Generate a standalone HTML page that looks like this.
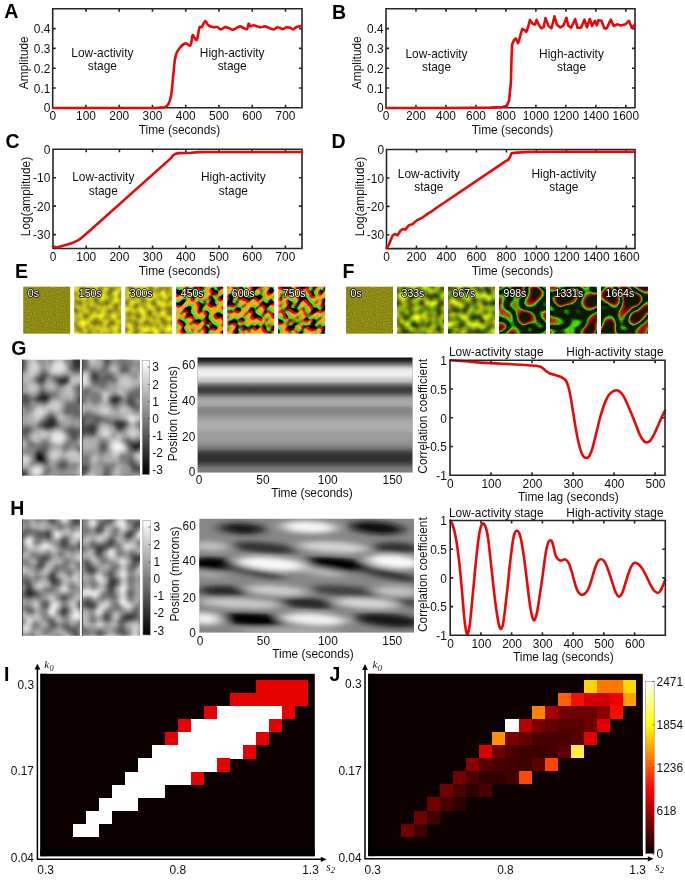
<!DOCTYPE html>
<html><head><meta charset="utf-8"><style>
html,body{margin:0;padding:0;background:#fff;width:685px;height:880px;overflow:hidden}
svg{display:block;will-change:transform}
text{font-family:"Liberation Sans", sans-serif}
</style></head><body>
<svg width="685" height="880" viewBox="0 0 685 880">
<path d="M52.7 8.7H302V107.8H52.7ZM52.7 107.8v-3M52.7 8.7v3M85.96 107.8v-3M85.96 8.7v3M119.22 107.8v-3M119.22 8.7v3M152.48 107.8v-3M152.48 8.7v3M185.74 107.8v-3M185.74 8.7v3M219 107.8v-3M219 8.7v3M252.26 107.8v-3M252.26 8.7v3M285.52 107.8v-3M285.52 8.7v3M52.7 107.8h3M302 107.8h-3M52.7 88h3M302 88h-3M52.7 68.2h3M302 68.2h-3M52.7 48.4h3M302 48.4h-3M52.7 28.6h3M302 28.6h-3" fill="none" stroke="#262626" stroke-width="1.6"/>
<text x="52.7" y="120.2" font-size="11.9" text-anchor="middle" fill="#111">0</text>
<text x="85.96" y="120.2" font-size="11.9" text-anchor="middle" fill="#111">100</text>
<text x="119.22" y="120.2" font-size="11.9" text-anchor="middle" fill="#111">200</text>
<text x="152.48" y="120.2" font-size="11.9" text-anchor="middle" fill="#111">300</text>
<text x="185.74" y="120.2" font-size="11.9" text-anchor="middle" fill="#111">400</text>
<text x="219" y="120.2" font-size="11.9" text-anchor="middle" fill="#111">500</text>
<text x="252.26" y="120.2" font-size="11.9" text-anchor="middle" fill="#111">600</text>
<text x="285.52" y="120.2" font-size="11.9" text-anchor="middle" fill="#111">700</text>
<text x="50.3" y="112.4" font-size="11.9" text-anchor="end" fill="#111">0</text>
<text x="50.3" y="92.6" font-size="11.9" text-anchor="end" fill="#111">0.1</text>
<text x="50.3" y="72.8" font-size="11.9" text-anchor="end" fill="#111">0.2</text>
<text x="50.3" y="53" font-size="11.9" text-anchor="end" fill="#111">0.3</text>
<text x="50.3" y="33.2" font-size="11.9" text-anchor="end" fill="#111">0.4</text>
<text x="4.3" y="17.7" font-size="19.5" text-anchor="start" font-weight="bold" fill="#000">A</text>
<text x="28.2" y="62.7" font-size="11.9" text-anchor="middle" fill="#111" transform="rotate(-90 28.2 62.7)">Amplitude</text>
<text x="179.5" y="134.3" font-size="11.9" text-anchor="middle" fill="#111">Time (seconds)</text>
<text x="102.4" y="57" font-size="11.9" text-anchor="middle" fill="#111">Low-activity</text>
<text x="102.4" y="70" font-size="11.9" text-anchor="middle" fill="#111">stage</text>
<text x="232.2" y="57" font-size="11.9" text-anchor="middle" fill="#111">High-activity</text>
<text x="232.2" y="70" font-size="11.9" text-anchor="middle" fill="#111">stage</text>
<path d="M386 8.7H635V107.8H386ZM386 107.8v-3M386 8.7v3M415.98 107.8v-3M415.98 8.7v3M445.96 107.8v-3M445.96 8.7v3M475.94 107.8v-3M475.94 8.7v3M505.92 107.8v-3M505.92 8.7v3M535.9 107.8v-3M535.9 8.7v3M565.88 107.8v-3M565.88 8.7v3M595.86 107.8v-3M595.86 8.7v3M625.84 107.8v-3M625.84 8.7v3M386 107.8h3M635 107.8h-3M386 88h3M635 88h-3M386 68.2h3M635 68.2h-3M386 48.4h3M635 48.4h-3M386 28.6h3M635 28.6h-3" fill="none" stroke="#262626" stroke-width="1.6"/>
<text x="386" y="120.2" font-size="11.9" text-anchor="middle" fill="#111">0</text>
<text x="415.98" y="120.2" font-size="11.9" text-anchor="middle" fill="#111">200</text>
<text x="445.96" y="120.2" font-size="11.9" text-anchor="middle" fill="#111">400</text>
<text x="475.94" y="120.2" font-size="11.9" text-anchor="middle" fill="#111">600</text>
<text x="505.92" y="120.2" font-size="11.9" text-anchor="middle" fill="#111">800</text>
<text x="535.9" y="120.2" font-size="11.9" text-anchor="middle" fill="#111">1000</text>
<text x="565.88" y="120.2" font-size="11.9" text-anchor="middle" fill="#111">1200</text>
<text x="595.86" y="120.2" font-size="11.9" text-anchor="middle" fill="#111">1400</text>
<text x="625.84" y="120.2" font-size="11.9" text-anchor="middle" fill="#111">1600</text>
<text x="383.6" y="112.4" font-size="11.9" text-anchor="end" fill="#111">0</text>
<text x="383.6" y="92.6" font-size="11.9" text-anchor="end" fill="#111">0.1</text>
<text x="383.6" y="72.8" font-size="11.9" text-anchor="end" fill="#111">0.2</text>
<text x="383.6" y="53" font-size="11.9" text-anchor="end" fill="#111">0.3</text>
<text x="383.6" y="33.2" font-size="11.9" text-anchor="end" fill="#111">0.4</text>
<text x="332.1" y="18.7" font-size="19.5" text-anchor="start" font-weight="bold" fill="#000">B</text>
<text x="361.5" y="62.7" font-size="11.9" text-anchor="middle" fill="#111" transform="rotate(-90 361.5 62.7)">Amplitude</text>
<text x="512.5" y="134.3" font-size="11.9" text-anchor="middle" fill="#111">Time (seconds)</text>
<text x="436.5" y="58" font-size="11.9" text-anchor="middle" fill="#111">Low-activity</text>
<text x="436.5" y="71" font-size="11.9" text-anchor="middle" fill="#111">stage</text>
<text x="571.5" y="58" font-size="11.9" text-anchor="middle" fill="#111">High-activity</text>
<text x="571.5" y="71" font-size="11.9" text-anchor="middle" fill="#111">stage</text>
<path d="M53 149.3H302V248.5H53ZM53 248.5v-3M53 149.3v3M86.2 248.5v-3M86.2 149.3v3M119.4 248.5v-3M119.4 149.3v3M152.6 248.5v-3M152.6 149.3v3M185.8 248.5v-3M185.8 149.3v3M219 248.5v-3M219 149.3v3M252.2 248.5v-3M252.2 149.3v3M285.4 248.5v-3M285.4 149.3v3M53 149.3h3M302 149.3h-3M53 177.73h3M302 177.73h-3M53 206.16h3M302 206.16h-3M53 234.59h3M302 234.59h-3" fill="none" stroke="#262626" stroke-width="1.6"/>
<text x="53" y="261" font-size="11.9" text-anchor="middle" fill="#111">0</text>
<text x="86.2" y="261" font-size="11.9" text-anchor="middle" fill="#111">100</text>
<text x="119.4" y="261" font-size="11.9" text-anchor="middle" fill="#111">200</text>
<text x="152.6" y="261" font-size="11.9" text-anchor="middle" fill="#111">300</text>
<text x="185.8" y="261" font-size="11.9" text-anchor="middle" fill="#111">400</text>
<text x="219" y="261" font-size="11.9" text-anchor="middle" fill="#111">500</text>
<text x="252.2" y="261" font-size="11.9" text-anchor="middle" fill="#111">600</text>
<text x="285.4" y="261" font-size="11.9" text-anchor="middle" fill="#111">700</text>
<text x="50.3" y="153.9" font-size="11.9" text-anchor="end" fill="#111">0</text>
<text x="50.3" y="182.33" font-size="11.9" text-anchor="end" fill="#111">-10</text>
<text x="50.3" y="210.76" font-size="11.9" text-anchor="end" fill="#111">-20</text>
<text x="50.3" y="239.19" font-size="11.9" text-anchor="end" fill="#111">-30</text>
<text x="5.5" y="148.3" font-size="19.5" text-anchor="start" font-weight="bold" fill="#000">C</text>
<text x="30" y="196.5" font-size="11.9" text-anchor="middle" fill="#111" transform="rotate(-90 30 196.5)">Log(amplitude)</text>
<text x="179.5" y="275" font-size="11.9" text-anchor="middle" fill="#111">Time (seconds)</text>
<text x="103.3" y="181" font-size="11.9" text-anchor="middle" fill="#111">Low-activity</text>
<text x="103.3" y="194.5" font-size="11.9" text-anchor="middle" fill="#111">stage</text>
<text x="233.4" y="181" font-size="11.9" text-anchor="middle" fill="#111">High-activity</text>
<text x="233.4" y="194.5" font-size="11.9" text-anchor="middle" fill="#111">stage</text>
<path d="M386.5 149.5H635V248.6H386.5ZM386.5 248.6v-3M386.5 149.5v3M416.48 248.6v-3M416.48 149.5v3M446.46 248.6v-3M446.46 149.5v3M476.44 248.6v-3M476.44 149.5v3M506.42 248.6v-3M506.42 149.5v3M536.4 248.6v-3M536.4 149.5v3M566.38 248.6v-3M566.38 149.5v3M596.36 248.6v-3M596.36 149.5v3M626.34 248.6v-3M626.34 149.5v3M386.5 149.5h3M635 149.5h-3M386.5 177.93h3M635 177.93h-3M386.5 206.36h3M635 206.36h-3M386.5 234.79h3M635 234.79h-3" fill="none" stroke="#262626" stroke-width="1.6"/>
<text x="386.5" y="261" font-size="11.9" text-anchor="middle" fill="#111">0</text>
<text x="416.48" y="261" font-size="11.9" text-anchor="middle" fill="#111">200</text>
<text x="446.46" y="261" font-size="11.9" text-anchor="middle" fill="#111">400</text>
<text x="476.44" y="261" font-size="11.9" text-anchor="middle" fill="#111">600</text>
<text x="506.42" y="261" font-size="11.9" text-anchor="middle" fill="#111">800</text>
<text x="536.4" y="261" font-size="11.9" text-anchor="middle" fill="#111">1000</text>
<text x="566.38" y="261" font-size="11.9" text-anchor="middle" fill="#111">1200</text>
<text x="596.36" y="261" font-size="11.9" text-anchor="middle" fill="#111">1400</text>
<text x="626.34" y="261" font-size="11.9" text-anchor="middle" fill="#111">1600</text>
<text x="384" y="154.1" font-size="11.9" text-anchor="end" fill="#111">0</text>
<text x="384" y="182.53" font-size="11.9" text-anchor="end" fill="#111">-10</text>
<text x="384" y="210.96" font-size="11.9" text-anchor="end" fill="#111">-20</text>
<text x="384" y="239.39" font-size="11.9" text-anchor="end" fill="#111">-30</text>
<text x="331.5" y="148.3" font-size="19.5" text-anchor="start" font-weight="bold" fill="#000">D</text>
<text x="364" y="196.5" font-size="11.9" text-anchor="middle" fill="#111" transform="rotate(-90 364 196.5)">Log(amplitude)</text>
<text x="512.5" y="275" font-size="11.9" text-anchor="middle" fill="#111">Time (seconds)</text>
<text x="428.9" y="178.4" font-size="11.9" text-anchor="middle" fill="#111">Low-activity</text>
<text x="428.9" y="191.3" font-size="11.9" text-anchor="middle" fill="#111">stage</text>
<text x="563.9" y="178.4" font-size="11.9" text-anchor="middle" fill="#111">High-activity</text>
<text x="563.9" y="191.3" font-size="11.9" text-anchor="middle" fill="#111">stage</text>
<path d="M53 108 C60.83 108 83.83 108 100 108 C116.17 108 140 108.07 150 108 C160 107.93 157.53 107.75 160 107.6 C162.47 107.45 163.4 107.68 164.8 107.1 C166.2 106.52 167.32 106.18 168.4 104.1 C169.48 102.02 170.52 99.18 171.3 94.6 C172.08 90.02 172.5 82.38 173.1 76.6 C173.7 70.82 174.3 63.87 174.9 59.9 C175.5 55.93 175.9 54.78 176.7 52.8 C177.5 50.82 178.6 49.4 179.7 48 C180.8 46.6 182.2 45.17 183.3 44.4 C184.4 43.63 185.3 43.2 186.3 43.4 C187.3 43.6 188.52 45.43 189.3 45.6 C190.08 45.77 190.47 46.1 191 44.4 C191.53 42.7 191.9 36.5 192.5 35.4 C193.1 34.3 193.85 37.1 194.6 37.8 C195.35 38.5 196.2 41.28 197 39.6 C197.8 37.92 198.6 29.78 199.4 27.7 C200.2 25.62 201.2 27.6 201.8 27.1 C202.4 26.6 202.4 25.7 203 24.7 C203.6 23.7 204.6 21.1 205.4 21.1 C206.2 21.1 206.62 23.7 207.8 24.7 C208.98 25.7 210.92 26.7 212.5 27.1 C214.08 27.5 215.9 26.7 217.3 27.1 C218.7 27.5 219.6 29.5 220.9 29.5 C222.2 29.5 223.7 27.3 225.1 27.1 C226.5 26.9 228.12 27.87 229.3 28.3 C230.48 28.73 231.17 29.65 232.2 29.7 C233.23 29.75 234.22 29.15 235.5 28.6 C236.78 28.05 238.63 26.55 239.9 26.4 C241.17 26.25 241.92 27.23 243.1 27.7 C244.28 28.17 246.08 29.87 247 29.2 C247.92 28.53 248.05 24.17 248.6 23.7 C249.15 23.23 249.48 26.13 250.3 26.4 C251.12 26.67 252.32 25.3 253.5 25.3 C254.68 25.3 256.2 26.07 257.4 26.4 C258.6 26.73 259.43 27.3 260.7 27.3 C261.97 27.3 263.55 26.27 265 26.4 C266.45 26.53 267.93 27.58 269.4 28.1 C270.87 28.62 272.52 29.63 273.8 29.5 C275.08 29.37 276 27.53 277.1 27.3 C278.2 27.07 279.48 27.78 280.4 28.1 C281.32 28.42 281.7 29.3 282.6 29.2 C283.5 29.1 284.53 27.75 285.8 27.5 C287.07 27.25 288.92 27.37 290.2 27.7 C291.48 28.03 292.58 29.53 293.5 29.5 C294.42 29.47 294.78 28.02 295.7 27.5 C296.62 26.98 298.08 26.67 299 26.4 C299.92 26.13 300.83 25.98 301.2 25.9" fill="none" stroke="#e80808" stroke-width="2.6" stroke-linejoin="round" stroke-linecap="round"/>
<path d="M386.5 108 L450 108 L490 107.6 L501.9 107.1 L506.7 105.9 L509.1 100.5 L510.9 82.6 L511.5 58.7 L512.1 44.4 L513.9 40.2 L515.7 38.4 L518.1 43.2 L519.9 37.2 L522.2 28.9 L524.6 30.1 L526.4 31.9 L528.2 26.5 L530 19.9 L532.4 23.5 L534.8 24.7 L536.6 19.9 L539 25.3 L541.3 28.3 L543.7 27.1 L545.5 18.1 L548.5 25.9 L551.5 28.3 L554.5 16.3 L556.9 24.7 L560.4 27.5 L563.5 25.4 L566.4 17.8 L568.2 25.4 L571.1 27.8 L575.2 19 L577.5 27.8 L581 27.8 L584.5 19.6 L586.9 27.2 L589.8 19 L592.1 26 L595 20.8 L596.8 25.4 L598.5 20.2 L601.5 20.8 L604.4 28.4 L606.7 28.4 L610.8 19.6 L613.7 26 L617.2 24.3 L620.7 25.4 L625.4 24.3 L628.9 20.8 L631.8 27.8 L634.7 24.9" fill="none" stroke="#e80808" stroke-width="2.6" stroke-linejoin="round" stroke-linecap="round"/>
<path d="M53 246.3 L55 247 L58 247.2 L62 246 L67.5 244.6 L73 242.7 L77 240.8 L80.5 238.7 L84 235.8 L90 230.5 L171 158.1 L173 155.5 L175.5 153.7 L179 153.1 L191 152.8 L199 152.1 L208 152 L302 152" fill="none" stroke="#e80808" stroke-width="2.6" stroke-linejoin="round" stroke-linecap="round"/>
<path d="M386.5 248 L388.8 244.9 L390.5 240.5 L392.7 235.3 L394.9 234 L397.5 235.3 L400.6 230.5 L402.8 229 L405.4 229.6 L408.9 225.2 L412.4 224.3 L416.8 220.4 L422.9 217.3 L428.2 213.4 L432.6 210.8 L436.1 208.1 L440 205.5 L505 161.6 L508.5 159.6 L510.3 156.4 L511.5 153.2 L516.7 152.6 L528.4 152 L550 151.7 L635 151.7" fill="none" stroke="#e80808" stroke-width="2.6" stroke-linejoin="round" stroke-linecap="round"/>
<rect x="40.4" y="673.8" width="274.4" height="182.4" fill="#0c0000"/>
<rect x="40.4" y="673.8" width="6.54" height="182.4" fill="#000"/>
<rect x="40.4" y="849.69" width="274.4" height="6.51" fill="#000"/>
<rect x="73.07" y="823.62" width="13.09" height="13.05" fill="#ffffff" shape-rendering="crispEdges"/>
<rect x="86.15" y="823.62" width="13.09" height="13.05" fill="#ffffff" shape-rendering="crispEdges"/>
<rect x="86.15" y="810.6" width="13.09" height="13.05" fill="#ffffff" shape-rendering="crispEdges"/>
<rect x="99.22" y="810.6" width="13.09" height="13.05" fill="#ffffff" shape-rendering="crispEdges"/>
<rect x="99.22" y="797.57" width="13.09" height="13.05" fill="#ffffff" shape-rendering="crispEdges"/>
<rect x="112.28" y="797.57" width="13.09" height="13.05" fill="#ffffff" shape-rendering="crispEdges"/>
<rect x="125.35" y="797.57" width="13.09" height="13.05" fill="#ffffff" shape-rendering="crispEdges"/>
<rect x="112.28" y="784.54" width="13.09" height="13.05" fill="#ffffff" shape-rendering="crispEdges"/>
<rect x="125.35" y="784.54" width="13.09" height="13.05" fill="#ffffff" shape-rendering="crispEdges"/>
<rect x="138.43" y="784.54" width="13.09" height="13.05" fill="#ffffff" shape-rendering="crispEdges"/>
<rect x="151.5" y="784.54" width="13.09" height="13.05" fill="#ffffff" shape-rendering="crispEdges"/>
<rect x="125.35" y="771.51" width="13.09" height="13.05" fill="#ffffff" shape-rendering="crispEdges"/>
<rect x="138.43" y="771.51" width="13.09" height="13.05" fill="#ffffff" shape-rendering="crispEdges"/>
<rect x="151.5" y="771.51" width="13.09" height="13.05" fill="#ffffff" shape-rendering="crispEdges"/>
<rect x="164.56" y="771.51" width="13.09" height="13.05" fill="#ffffff" shape-rendering="crispEdges"/>
<rect x="177.64" y="771.51" width="13.09" height="13.05" fill="#ffffff" shape-rendering="crispEdges"/>
<rect x="138.43" y="758.48" width="13.09" height="13.05" fill="#ffffff" shape-rendering="crispEdges"/>
<rect x="151.5" y="758.48" width="13.09" height="13.05" fill="#ffffff" shape-rendering="crispEdges"/>
<rect x="164.56" y="758.48" width="13.09" height="13.05" fill="#ffffff" shape-rendering="crispEdges"/>
<rect x="177.64" y="758.48" width="13.09" height="13.05" fill="#ffffff" shape-rendering="crispEdges"/>
<rect x="190.71" y="758.48" width="13.09" height="13.05" fill="#ffffff" shape-rendering="crispEdges"/>
<rect x="203.78" y="758.48" width="13.09" height="13.05" fill="#ffffff" shape-rendering="crispEdges"/>
<rect x="151.5" y="745.45" width="13.09" height="13.05" fill="#ffffff" shape-rendering="crispEdges"/>
<rect x="164.56" y="745.45" width="13.09" height="13.05" fill="#ffffff" shape-rendering="crispEdges"/>
<rect x="177.64" y="745.45" width="13.09" height="13.05" fill="#ffffff" shape-rendering="crispEdges"/>
<rect x="190.71" y="745.45" width="13.09" height="13.05" fill="#ffffff" shape-rendering="crispEdges"/>
<rect x="203.78" y="745.45" width="13.09" height="13.05" fill="#ffffff" shape-rendering="crispEdges"/>
<rect x="216.84" y="745.45" width="13.09" height="13.05" fill="#ffffff" shape-rendering="crispEdges"/>
<rect x="229.92" y="745.45" width="13.09" height="13.05" fill="#ffffff" shape-rendering="crispEdges"/>
<rect x="177.64" y="732.42" width="13.09" height="13.05" fill="#ffffff" shape-rendering="crispEdges"/>
<rect x="190.71" y="732.42" width="13.09" height="13.05" fill="#ffffff" shape-rendering="crispEdges"/>
<rect x="203.78" y="732.42" width="13.09" height="13.05" fill="#ffffff" shape-rendering="crispEdges"/>
<rect x="216.84" y="732.42" width="13.09" height="13.05" fill="#ffffff" shape-rendering="crispEdges"/>
<rect x="229.92" y="732.42" width="13.09" height="13.05" fill="#ffffff" shape-rendering="crispEdges"/>
<rect x="242.99" y="732.42" width="13.09" height="13.05" fill="#ffffff" shape-rendering="crispEdges"/>
<rect x="190.71" y="719.38" width="13.09" height="13.05" fill="#ffffff" shape-rendering="crispEdges"/>
<rect x="203.78" y="719.38" width="13.09" height="13.05" fill="#ffffff" shape-rendering="crispEdges"/>
<rect x="216.84" y="719.38" width="13.09" height="13.05" fill="#ffffff" shape-rendering="crispEdges"/>
<rect x="229.92" y="719.38" width="13.09" height="13.05" fill="#ffffff" shape-rendering="crispEdges"/>
<rect x="242.99" y="719.38" width="13.09" height="13.05" fill="#ffffff" shape-rendering="crispEdges"/>
<rect x="256.06" y="719.38" width="13.09" height="13.05" fill="#ffffff" shape-rendering="crispEdges"/>
<rect x="216.84" y="706.36" width="13.09" height="13.05" fill="#ffffff" shape-rendering="crispEdges"/>
<rect x="229.92" y="706.36" width="13.09" height="13.05" fill="#ffffff" shape-rendering="crispEdges"/>
<rect x="242.99" y="706.36" width="13.09" height="13.05" fill="#ffffff" shape-rendering="crispEdges"/>
<rect x="256.06" y="706.36" width="13.09" height="13.05" fill="#ffffff" shape-rendering="crispEdges"/>
<rect x="269.12" y="706.36" width="13.09" height="13.05" fill="#ffffff" shape-rendering="crispEdges"/>
<rect x="190.71" y="771.51" width="13.09" height="13.05" fill="#e60000" shape-rendering="crispEdges"/>
<rect x="216.84" y="758.48" width="13.09" height="13.05" fill="#e60000" shape-rendering="crispEdges"/>
<rect x="242.99" y="745.45" width="13.09" height="13.05" fill="#e60000" shape-rendering="crispEdges"/>
<rect x="164.56" y="732.42" width="13.09" height="13.05" fill="#e60000" shape-rendering="crispEdges"/>
<rect x="256.06" y="732.42" width="13.09" height="13.05" fill="#e60000" shape-rendering="crispEdges"/>
<rect x="177.64" y="719.38" width="13.09" height="13.05" fill="#e60000" shape-rendering="crispEdges"/>
<rect x="269.12" y="719.38" width="13.09" height="13.05" fill="#e60000" shape-rendering="crispEdges"/>
<rect x="203.78" y="706.36" width="13.09" height="13.05" fill="#e60000" shape-rendering="crispEdges"/>
<rect x="282.19" y="706.36" width="13.09" height="13.05" fill="#e60000" shape-rendering="crispEdges"/>
<rect x="229.92" y="693.33" width="13.09" height="13.05" fill="#e60000" shape-rendering="crispEdges"/>
<rect x="242.99" y="693.33" width="13.09" height="13.05" fill="#e60000" shape-rendering="crispEdges"/>
<rect x="256.06" y="693.33" width="13.09" height="13.05" fill="#e60000" shape-rendering="crispEdges"/>
<rect x="269.12" y="693.33" width="13.09" height="13.05" fill="#e60000" shape-rendering="crispEdges"/>
<rect x="282.19" y="693.33" width="13.09" height="13.05" fill="#e60000" shape-rendering="crispEdges"/>
<rect x="295.26" y="693.33" width="13.09" height="13.05" fill="#e60000" shape-rendering="crispEdges"/>
<rect x="256.06" y="680.3" width="13.09" height="13.05" fill="#e60000" shape-rendering="crispEdges"/>
<rect x="269.12" y="680.3" width="13.09" height="13.05" fill="#e60000" shape-rendering="crispEdges"/>
<rect x="282.19" y="680.3" width="13.09" height="13.05" fill="#e60000" shape-rendering="crispEdges"/>
<rect x="295.26" y="680.3" width="13.09" height="13.05" fill="#e60000" shape-rendering="crispEdges"/>
<path d="M37.4 860.05V668.8 M36.65 859.3H321.6" stroke="#000" stroke-width="1.5" fill="none"/>
<path d="M37.4 663.8L34.5 669.6L40.3 669.6Z" fill="#000"/>
<path d="M326.6 859.3L320.8 856.7L320.8 861.9Z" fill="#000"/>
<text x="3.9" y="681" font-size="19.5" text-anchor="start" font-weight="bold" fill="#000">I</text>
<text x="44.2" y="667.6" font-size="11" text-anchor="start" style='font-family:"Liberation Serif", serif' font-style="italic" fill="#111">k</text>
<text x="49.6" y="670.6" font-size="8.5" text-anchor="start" style='font-family:"Liberation Serif", serif' font-style="italic" fill="#111">0</text>
<text x="326.3" y="870.8" font-size="11.5" text-anchor="start" style='font-family:"Liberation Serif", serif' font-style="italic" fill="#111">s</text>
<text x="330.8" y="873.4" font-size="8.5" text-anchor="start" style='font-family:"Liberation Serif", serif' font-style="italic" fill="#111">2</text>
<text x="34" y="688.6" font-size="11.9" text-anchor="end" fill="#111">0.3</text>
<text x="34" y="775.3" font-size="11.9" text-anchor="end" fill="#111">0.17</text>
<text x="34" y="862.3" font-size="11.9" text-anchor="end" fill="#111">0.04</text>
<text x="45.6" y="873.9" font-size="11.9" text-anchor="middle" fill="#111">0.3</text>
<text x="177.8" y="873.9" font-size="11.9" text-anchor="middle" fill="#111">0.8</text>
<text x="310.5" y="873.9" font-size="11.9" text-anchor="middle" fill="#111">1.3</text>
<rect x="368.2" y="673.8" width="274.6" height="182.3" fill="#0c0000"/>
<rect x="368.2" y="673.8" width="6.54" height="182.3" fill="#000"/>
<rect x="368.2" y="849.59" width="274.6" height="6.51" fill="#000"/>
<rect x="400.88" y="823.52" width="13.09" height="13.05" fill="#700000" shape-rendering="crispEdges"/>
<rect x="413.94" y="823.52" width="13.09" height="13.05" fill="#400000" shape-rendering="crispEdges"/>
<rect x="413.94" y="810.5" width="13.09" height="13.05" fill="#700000" shape-rendering="crispEdges"/>
<rect x="427.01" y="810.5" width="13.09" height="13.05" fill="#400000" shape-rendering="crispEdges"/>
<rect x="427.01" y="797.47" width="13.09" height="13.05" fill="#700000" shape-rendering="crispEdges"/>
<rect x="440.08" y="797.47" width="13.09" height="13.05" fill="#480000" shape-rendering="crispEdges"/>
<rect x="453.15" y="797.47" width="13.09" height="13.05" fill="#300000" shape-rendering="crispEdges"/>
<rect x="440.08" y="784.44" width="13.09" height="13.05" fill="#700000" shape-rendering="crispEdges"/>
<rect x="453.15" y="784.44" width="13.09" height="13.05" fill="#480000" shape-rendering="crispEdges"/>
<rect x="466.23" y="784.44" width="13.09" height="13.05" fill="#300000" shape-rendering="crispEdges"/>
<rect x="479.29" y="784.44" width="13.09" height="13.05" fill="#480000" shape-rendering="crispEdges"/>
<rect x="453.15" y="771.4" width="13.09" height="13.05" fill="#780000" shape-rendering="crispEdges"/>
<rect x="466.23" y="771.4" width="13.09" height="13.05" fill="#480000" shape-rendering="crispEdges"/>
<rect x="479.29" y="771.4" width="13.09" height="13.05" fill="#300000" shape-rendering="crispEdges"/>
<rect x="492.37" y="771.4" width="13.09" height="13.05" fill="#300000" shape-rendering="crispEdges"/>
<rect x="505.44" y="771.4" width="13.09" height="13.05" fill="#400000" shape-rendering="crispEdges"/>
<rect x="518.5" y="771.4" width="13.09" height="13.05" fill="#ff4800" shape-rendering="crispEdges"/>
<rect x="466.23" y="758.38" width="13.09" height="13.05" fill="#8a0000" shape-rendering="crispEdges"/>
<rect x="479.29" y="758.38" width="13.09" height="13.05" fill="#580000" shape-rendering="crispEdges"/>
<rect x="492.37" y="758.38" width="13.09" height="13.05" fill="#480000" shape-rendering="crispEdges"/>
<rect x="505.44" y="758.38" width="13.09" height="13.05" fill="#400000" shape-rendering="crispEdges"/>
<rect x="518.5" y="758.38" width="13.09" height="13.05" fill="#400000" shape-rendering="crispEdges"/>
<rect x="531.58" y="758.38" width="13.09" height="13.05" fill="#580000" shape-rendering="crispEdges"/>
<rect x="544.64" y="758.38" width="13.09" height="13.05" fill="#ff4400" shape-rendering="crispEdges"/>
<rect x="479.29" y="745.35" width="13.09" height="13.05" fill="#d80000" shape-rendering="crispEdges"/>
<rect x="492.37" y="745.35" width="13.09" height="13.05" fill="#700000" shape-rendering="crispEdges"/>
<rect x="505.44" y="745.35" width="13.09" height="13.05" fill="#480000" shape-rendering="crispEdges"/>
<rect x="518.5" y="745.35" width="13.09" height="13.05" fill="#3c0000" shape-rendering="crispEdges"/>
<rect x="531.58" y="745.35" width="13.09" height="13.05" fill="#3a0000" shape-rendering="crispEdges"/>
<rect x="544.64" y="745.35" width="13.09" height="13.05" fill="#400000" shape-rendering="crispEdges"/>
<rect x="557.72" y="745.35" width="13.09" height="13.05" fill="#5a0000" shape-rendering="crispEdges"/>
<rect x="570.78" y="745.35" width="13.09" height="13.05" fill="#ffee44" shape-rendering="crispEdges"/>
<rect x="492.37" y="732.32" width="13.09" height="13.05" fill="#ff9000" shape-rendering="crispEdges"/>
<rect x="505.44" y="732.32" width="13.09" height="13.05" fill="#780000" shape-rendering="crispEdges"/>
<rect x="518.5" y="732.32" width="13.09" height="13.05" fill="#600000" shape-rendering="crispEdges"/>
<rect x="531.58" y="732.32" width="13.09" height="13.05" fill="#4a0000" shape-rendering="crispEdges"/>
<rect x="544.64" y="732.32" width="13.09" height="13.05" fill="#460000" shape-rendering="crispEdges"/>
<rect x="557.72" y="732.32" width="13.09" height="13.05" fill="#480000" shape-rendering="crispEdges"/>
<rect x="570.78" y="732.32" width="13.09" height="13.05" fill="#5a0000" shape-rendering="crispEdges"/>
<rect x="583.86" y="732.32" width="13.09" height="13.05" fill="#e60000" shape-rendering="crispEdges"/>
<rect x="505.44" y="719.29" width="13.09" height="13.05" fill="#ffffff" shape-rendering="crispEdges"/>
<rect x="518.5" y="719.29" width="13.09" height="13.05" fill="#b80000" shape-rendering="crispEdges"/>
<rect x="531.58" y="719.29" width="13.09" height="13.05" fill="#780000" shape-rendering="crispEdges"/>
<rect x="544.64" y="719.29" width="13.09" height="13.05" fill="#640000" shape-rendering="crispEdges"/>
<rect x="557.72" y="719.29" width="13.09" height="13.05" fill="#560000" shape-rendering="crispEdges"/>
<rect x="570.78" y="719.29" width="13.09" height="13.05" fill="#560000" shape-rendering="crispEdges"/>
<rect x="583.86" y="719.29" width="13.09" height="13.05" fill="#6a0000" shape-rendering="crispEdges"/>
<rect x="596.92" y="719.29" width="13.09" height="13.05" fill="#e00000" shape-rendering="crispEdges"/>
<rect x="531.58" y="706.25" width="13.09" height="13.05" fill="#ff8400" shape-rendering="crispEdges"/>
<rect x="544.64" y="706.25" width="13.09" height="13.05" fill="#a40000" shape-rendering="crispEdges"/>
<rect x="557.72" y="706.25" width="13.09" height="13.05" fill="#760000" shape-rendering="crispEdges"/>
<rect x="570.78" y="706.25" width="13.09" height="13.05" fill="#680000" shape-rendering="crispEdges"/>
<rect x="583.86" y="706.25" width="13.09" height="13.05" fill="#680000" shape-rendering="crispEdges"/>
<rect x="596.92" y="706.25" width="13.09" height="13.05" fill="#8a0000" shape-rendering="crispEdges"/>
<rect x="610" y="706.25" width="13.09" height="13.05" fill="#f01000" shape-rendering="crispEdges"/>
<rect x="557.72" y="693.23" width="13.09" height="13.05" fill="#ff6000" shape-rendering="crispEdges"/>
<rect x="570.78" y="693.23" width="13.09" height="13.05" fill="#ee1000" shape-rendering="crispEdges"/>
<rect x="583.86" y="693.23" width="13.09" height="13.05" fill="#d40000" shape-rendering="crispEdges"/>
<rect x="596.92" y="693.23" width="13.09" height="13.05" fill="#cc0000" shape-rendering="crispEdges"/>
<rect x="610" y="693.23" width="13.09" height="13.05" fill="#f00000" shape-rendering="crispEdges"/>
<rect x="623.07" y="693.23" width="13.09" height="13.05" fill="#ffa000" shape-rendering="crispEdges"/>
<rect x="583.86" y="680.2" width="13.09" height="13.05" fill="#ffd400" shape-rendering="crispEdges"/>
<rect x="596.92" y="680.2" width="13.09" height="13.05" fill="#ff7800" shape-rendering="crispEdges"/>
<rect x="610" y="680.2" width="13.09" height="13.05" fill="#ff7800" shape-rendering="crispEdges"/>
<rect x="623.07" y="680.2" width="13.09" height="13.05" fill="#ffd800" shape-rendering="crispEdges"/>
<path d="M365 859.55V669.1 M364.25 858.8H648.6" stroke="#000" stroke-width="1.5" fill="none"/>
<path d="M365 664.1L362.1 669.9L367.9 669.9Z" fill="#000"/>
<path d="M653.6 858.8L647.8 856.2L647.8 861.4Z" fill="#000"/>
<text x="329.5" y="680.6" font-size="19.5" text-anchor="start" font-weight="bold" fill="#000">J</text>
<text x="372.4" y="667.6" font-size="11" text-anchor="start" style='font-family:"Liberation Serif", serif' font-style="italic" fill="#111">k</text>
<text x="377.8" y="670.6" font-size="8.5" text-anchor="start" style='font-family:"Liberation Serif", serif' font-style="italic" fill="#111">0</text>
<text x="655.3" y="870.8" font-size="11.5" text-anchor="start" style='font-family:"Liberation Serif", serif' font-style="italic" fill="#111">s</text>
<text x="659.8" y="873.4" font-size="8.5" text-anchor="start" style='font-family:"Liberation Serif", serif' font-style="italic" fill="#111">2</text>
<text x="361.6" y="688.1" font-size="11.9" text-anchor="end" fill="#111">0.3</text>
<text x="361.6" y="775.3" font-size="11.9" text-anchor="end" fill="#111">0.17</text>
<text x="361.6" y="861.8" font-size="11.9" text-anchor="end" fill="#111">0.04</text>
<text x="372.7" y="873.9" font-size="11.9" text-anchor="middle" fill="#111">0.3</text>
<text x="505.4" y="873.9" font-size="11.9" text-anchor="middle" fill="#111">0.8</text>
<text x="637.6" y="873.9" font-size="11.9" text-anchor="middle" fill="#111">1.3</text>
<defs><linearGradient id="hot" x1="0" y1="0" x2="0" y2="1"><stop offset="0" stop-color="#fff"/><stop offset="0.25" stop-color="#ff0"/><stop offset="0.625" stop-color="#f00"/><stop offset="1" stop-color="#000"/></linearGradient></defs>
<rect x="645.6" y="681.3" width="8.6" height="172.4" fill="url(#hot)" stroke="#888" stroke-width="0.6"/>
<text x="656.6" y="685.6" font-size="11.9" text-anchor="start" fill="#111">2471</text>
<line x1="652.6" y1="681.4" x2="654.2" y2="681.4" stroke="#333" stroke-width="0.8"/>
<text x="656.6" y="729" font-size="11.9" text-anchor="start" fill="#111">1854</text>
<line x1="652.6" y1="724.8" x2="654.2" y2="724.8" stroke="#333" stroke-width="0.8"/>
<text x="656.6" y="772" font-size="11.9" text-anchor="start" fill="#111">1236</text>
<line x1="652.6" y1="767.8" x2="654.2" y2="767.8" stroke="#333" stroke-width="0.8"/>
<text x="656.6" y="815" font-size="11.9" text-anchor="start" fill="#111">618</text>
<line x1="652.6" y1="810.8" x2="654.2" y2="810.8" stroke="#333" stroke-width="0.8"/>
<text x="656.6" y="858.4" font-size="11.9" text-anchor="start" fill="#111">0</text>
<line x1="652.6" y1="854.2" x2="654.2" y2="854.2" stroke="#333" stroke-width="0.8"/>
<defs><filter id="fsp" x="-0.1" y="-0.1" width="1.2" height="1.2" color-interpolation-filters="sRGB"><feTurbulence type="fractalNoise" baseFrequency="0.8" numOctaves="1" seed="3"/><feColorMatrix type="matrix" values="0.4 0 0 0 0.35  0 0.4 0 0 0.34  0 0 0 0 0.08  0 0 0 0 1"/><feComposite in2="SourceGraphic" operator="in"/></filter><filter id="fy1" x="-0.1" y="-0.1" width="1.2" height="1.2" color-interpolation-filters="sRGB"><feTurbulence type="fractalNoise" baseFrequency="0.15" numOctaves="1" seed="7"/><feColorMatrix type="matrix" values="0.95 0 0 0 0.25  0.95 0 0 0 0.23  0 0 0 0 0.11  0 0 0 0 1"/><feComposite in2="SourceGraphic" operator="in"/></filter><filter id="fy2" x="-0.1" y="-0.1" width="1.2" height="1.2" color-interpolation-filters="sRGB"><feTurbulence type="fractalNoise" baseFrequency="0.15" numOctaves="1" seed="8"/><feColorMatrix type="matrix" values="0.95 0 0 0 0.25  0.95 0 0 0 0.23  0 0 0 0 0.11  0 0 0 0 1"/><feComposite in2="SourceGraphic" operator="in"/></filter><filter id="fo0" x="-0.1" y="-0.1" width="1.2" height="1.2" color-interpolation-filters="sRGB"><feTurbulence type="fractalNoise" baseFrequency="0.17" numOctaves="1" seed="11" result="n"/><feColorMatrix in="n" type="matrix" values="8 0 0 0 -3.4  8 0 0 0 -3.4  8 0 0 0 -3.4  0 0 0 0 1" result="t"/><feOffset in="t" dx="-2" dy="1.8" result="t2"/><feColorMatrix in="t" type="matrix" values="0.95 0 0 0 0  0 0 0 0 0  0 0 0 0 0.05  0 0 0 0 1" result="r"/><feColorMatrix in="t2" type="matrix" values="0.3 0 0 0 0  0.92 0 0 0 0  0.12 0 0 0 0  0 0 0 0 1" result="g"/><feBlend in="r" in2="g" mode="lighten" result="L"/><feComposite in="t" in2="t2" operator="arithmetic" k1="1" k2="0" k3="0" k4="0" result="m"/><feColorMatrix in="m" type="matrix" values="0 0 0 0 1  -0.27 0 0 0 1  0 0 0 0 1  0 0 0 0 1" result="W"/><feBlend in="L" in2="W" mode="multiply"/><feComposite in2="SourceGraphic" operator="in"/></filter><filter id="fo1" x="-0.1" y="-0.1" width="1.2" height="1.2" color-interpolation-filters="sRGB"><feTurbulence type="fractalNoise" baseFrequency="0.17" numOctaves="1" seed="12" result="n"/><feColorMatrix in="n" type="matrix" values="8 0 0 0 -3.4  8 0 0 0 -3.4  8 0 0 0 -3.4  0 0 0 0 1" result="t"/><feOffset in="t" dx="-2" dy="1.8" result="t2"/><feColorMatrix in="t" type="matrix" values="0.95 0 0 0 0  0 0 0 0 0  0 0 0 0 0.05  0 0 0 0 1" result="r"/><feColorMatrix in="t2" type="matrix" values="0.3 0 0 0 0  0.92 0 0 0 0  0.12 0 0 0 0  0 0 0 0 1" result="g"/><feBlend in="r" in2="g" mode="lighten" result="L"/><feComposite in="t" in2="t2" operator="arithmetic" k1="1" k2="0" k3="0" k4="0" result="m"/><feColorMatrix in="m" type="matrix" values="0 0 0 0 1  -0.27 0 0 0 1  0 0 0 0 1  0 0 0 0 1" result="W"/><feBlend in="L" in2="W" mode="multiply"/><feComposite in2="SourceGraphic" operator="in"/></filter><filter id="fo2" x="-0.1" y="-0.1" width="1.2" height="1.2" color-interpolation-filters="sRGB"><feTurbulence type="fractalNoise" baseFrequency="0.17" numOctaves="1" seed="13" result="n"/><feColorMatrix in="n" type="matrix" values="8 0 0 0 -3.4  8 0 0 0 -3.4  8 0 0 0 -3.4  0 0 0 0 1" result="t"/><feOffset in="t" dx="-2" dy="1.8" result="t2"/><feColorMatrix in="t" type="matrix" values="0.95 0 0 0 0  0 0 0 0 0  0 0 0 0 0.05  0 0 0 0 1" result="r"/><feColorMatrix in="t2" type="matrix" values="0.3 0 0 0 0  0.92 0 0 0 0  0.12 0 0 0 0  0 0 0 0 1" result="g"/><feBlend in="r" in2="g" mode="lighten" result="L"/><feComposite in="t" in2="t2" operator="arithmetic" k1="1" k2="0" k3="0" k4="0" result="m"/><feColorMatrix in="m" type="matrix" values="0 0 0 0 1  -0.27 0 0 0 1  0 0 0 0 1  0 0 0 0 1" result="W"/><feBlend in="L" in2="W" mode="multiply"/><feComposite in2="SourceGraphic" operator="in"/></filter><filter id="fg0" x="-0.1" y="-0.1" width="1.2" height="1.2" color-interpolation-filters="sRGB"><feTurbulence type="fractalNoise" baseFrequency="0.14" numOctaves="1" seed="21"/><feColorMatrix type="matrix" values="0.7 1.2 0 0 -0.45  0.2 1.4 0 0 -0.2  0 0 0 0 0.05  0 0 0 0 1"/><feComposite in2="SourceGraphic" operator="in"/></filter><filter id="fg1" x="-0.1" y="-0.1" width="1.2" height="1.2" color-interpolation-filters="sRGB"><feTurbulence type="fractalNoise" baseFrequency="0.14" numOctaves="1" seed="22"/><feColorMatrix type="matrix" values="0.7 1.2 0 0 -0.45  0.2 1.4 0 0 -0.2  0 0 0 0 0.05  0 0 0 0 1"/><feComposite in2="SourceGraphic" operator="in"/></filter><filter id="fw0" x="-0.1" y="-0.1" width="1.2" height="1.2" color-interpolation-filters="sRGB"><feTurbulence type="fractalNoise" baseFrequency="0.055" numOctaves="1" seed="31"/><feColorMatrix type="matrix" values="2.5 0 0 0 -0.75  2.5 0 0 0 -0.75  2.5 0 0 0 -0.75  0 0 0 0 1"/><feComponentTransfer><feFuncR type="table" tableValues="0.04 0.04 0.1 0.45 0.7 0.65 0.3 0.06 0.04 0.04 0.04 0.04 0.08 0.3 0.72 0.7 0.4 0.15 0.04 0.04"/><feFuncG type="table" tableValues="0.1 0.1 0.08 0.03 0.05 0.3 0.8 0.3 0.1 0.1 0.1 0.1 0.55 0.9 0.3 0.05 0.03 0.06 0.1 0.1"/><feFuncB type="table" tableValues="0"/></feComponentTransfer><feComposite in2="SourceGraphic" operator="in"/></filter><filter id="fw1" x="-0.1" y="-0.1" width="1.2" height="1.2" color-interpolation-filters="sRGB"><feTurbulence type="fractalNoise" baseFrequency="0.055" numOctaves="1" seed="32"/><feColorMatrix type="matrix" values="2.5 0 0 0 -0.75  2.5 0 0 0 -0.75  2.5 0 0 0 -0.75  0 0 0 0 1"/><feComponentTransfer><feFuncR type="table" tableValues="0.04 0.04 0.1 0.45 0.7 0.65 0.3 0.06 0.04 0.04 0.04 0.04 0.08 0.3 0.72 0.7 0.4 0.15 0.04 0.04"/><feFuncG type="table" tableValues="0.1 0.1 0.08 0.03 0.05 0.3 0.8 0.3 0.1 0.1 0.1 0.1 0.55 0.9 0.3 0.05 0.03 0.06 0.1 0.1"/><feFuncB type="table" tableValues="0"/></feComponentTransfer><feComposite in2="SourceGraphic" operator="in"/></filter><filter id="fw2" x="-0.1" y="-0.1" width="1.2" height="1.2" color-interpolation-filters="sRGB"><feTurbulence type="fractalNoise" baseFrequency="0.055" numOctaves="1" seed="33"/><feColorMatrix type="matrix" values="2.5 0 0 0 -0.75  2.5 0 0 0 -0.75  2.5 0 0 0 -0.75  0 0 0 0 1"/><feComponentTransfer><feFuncR type="table" tableValues="0.04 0.04 0.1 0.45 0.7 0.65 0.3 0.06 0.04 0.04 0.04 0.04 0.08 0.3 0.72 0.7 0.4 0.15 0.04 0.04"/><feFuncG type="table" tableValues="0.1 0.1 0.08 0.03 0.05 0.3 0.8 0.3 0.1 0.1 0.1 0.1 0.55 0.9 0.3 0.05 0.03 0.06 0.1 0.1"/><feFuncB type="table" tableValues="0"/></feComponentTransfer><feComposite in2="SourceGraphic" operator="in"/></filter></defs>
<rect x="23.2" y="286.7" width="47" height="47" fill="#888" filter="url(#fsp)"/>
<text x="27.8" y="297.4" font-size="10.5" fill="#fff" stroke="#111" stroke-width="1.6" paint-order="stroke" stroke-linejoin="round">0s</text>
<rect x="74.2" y="286.7" width="47" height="47" fill="#888" filter="url(#fy1)"/>
<text x="78.8" y="297.4" font-size="10.5" fill="#fff" stroke="#111" stroke-width="1.6" paint-order="stroke" stroke-linejoin="round">150s</text>
<rect x="125.2" y="286.7" width="47" height="47" fill="#888" filter="url(#fy2)"/>
<text x="129.8" y="297.4" font-size="10.5" fill="#fff" stroke="#111" stroke-width="1.6" paint-order="stroke" stroke-linejoin="round">300s</text>
<rect x="176.2" y="286.7" width="47" height="47" fill="#888" filter="url(#fo0)"/>
<text x="180.8" y="297.4" font-size="10.5" fill="#fff" stroke="#111" stroke-width="1.6" paint-order="stroke" stroke-linejoin="round">450s</text>
<rect x="227.2" y="286.7" width="47" height="47" fill="#888" filter="url(#fo1)"/>
<text x="231.8" y="297.4" font-size="10.5" fill="#fff" stroke="#111" stroke-width="1.6" paint-order="stroke" stroke-linejoin="round">600s</text>
<rect x="278.2" y="286.7" width="47" height="47" fill="#888" filter="url(#fo2)"/>
<text x="282.8" y="297.4" font-size="10.5" fill="#fff" stroke="#111" stroke-width="1.6" paint-order="stroke" stroke-linejoin="round">750s</text>
<rect x="346" y="286.7" width="47" height="47" fill="#888" filter="url(#fsp)"/>
<text x="350.6" y="297.4" font-size="10.5" fill="#fff" stroke="#111" stroke-width="1.6" paint-order="stroke" stroke-linejoin="round">0s</text>
<rect x="397" y="286.7" width="47" height="47" fill="#888" filter="url(#fg0)"/>
<text x="401.6" y="297.4" font-size="10.5" fill="#fff" stroke="#111" stroke-width="1.6" paint-order="stroke" stroke-linejoin="round">333s</text>
<rect x="448" y="286.7" width="47" height="47" fill="#888" filter="url(#fg1)"/>
<text x="452.6" y="297.4" font-size="10.5" fill="#fff" stroke="#111" stroke-width="1.6" paint-order="stroke" stroke-linejoin="round">667s</text>
<rect x="499" y="286.7" width="47" height="47" fill="#888" filter="url(#fw0)"/>
<text x="503.6" y="297.4" font-size="10.5" fill="#fff" stroke="#111" stroke-width="1.6" paint-order="stroke" stroke-linejoin="round">998s</text>
<rect x="550" y="286.7" width="47" height="47" fill="#888" filter="url(#fw1)"/>
<text x="554.6" y="297.4" font-size="10.5" fill="#fff" stroke="#111" stroke-width="1.6" paint-order="stroke" stroke-linejoin="round">1331s</text>
<rect x="601" y="286.7" width="47" height="47" fill="#888" filter="url(#fw2)"/>
<text x="605.6" y="297.4" font-size="10.5" fill="#fff" stroke="#111" stroke-width="1.6" paint-order="stroke" stroke-linejoin="round">1664s</text>
<text x="15" y="278" font-size="19.5" text-anchor="start" font-weight="bold" fill="#000">E</text>
<text x="342.5" y="278" font-size="19.5" text-anchor="start" font-weight="bold" fill="#000">F</text>
<defs><linearGradient id="gbar" x1="0" y1="0" x2="0" y2="1"><stop offset="0" stop-color="#fff"/><stop offset="1" stop-color="#000"/></linearGradient><linearGradient id="gkym" x1="0" y1="0" x2="0" y2="1"><stop offset="0.0000" stop-color="rgb(30,30,30)"/><stop offset="0.0130" stop-color="rgb(22,22,22)"/><stop offset="0.0321" stop-color="rgb(45,45,45)"/><stop offset="0.0582" stop-color="rgb(110,110,110)"/><stop offset="0.0930" stop-color="rgb(210,210,210)"/><stop offset="0.1190" stop-color="rgb(238,238,238)"/><stop offset="0.1538" stop-color="rgb(238,238,238)"/><stop offset="0.1798" stop-color="rgb(215,215,215)"/><stop offset="0.2103" stop-color="rgb(185,185,185)"/><stop offset="0.2363" stop-color="rgb(120,120,120)"/><stop offset="0.2624" stop-color="rgb(70,70,70)"/><stop offset="0.2841" stop-color="rgb(58,58,58)"/><stop offset="0.3084" stop-color="rgb(75,75,75)"/><stop offset="0.3319" stop-color="rgb(120,120,120)"/><stop offset="0.3579" stop-color="rgb(160,160,160)"/><stop offset="0.3884" stop-color="rgb(170,170,170)"/><stop offset="0.4144" stop-color="rgb(165,165,165)"/><stop offset="0.4405" stop-color="rgb(140,140,140)"/><stop offset="0.4666" stop-color="rgb(130,130,130)"/><stop offset="0.4926" stop-color="rgb(138,138,138)"/><stop offset="0.5187" stop-color="rgb(152,152,152)"/><stop offset="0.5534" stop-color="rgb(170,170,170)"/><stop offset="0.5969" stop-color="rgb(175,175,175)"/><stop offset="0.6316" stop-color="rgb(168,168,168)"/><stop offset="0.6664" stop-color="rgb(156,156,156)"/><stop offset="0.7185" stop-color="rgb(154,154,154)"/><stop offset="0.7619" stop-color="rgb(140,140,140)"/><stop offset="0.7967" stop-color="rgb(110,110,110)"/><stop offset="0.8228" stop-color="rgb(70,70,70)"/><stop offset="0.8488" stop-color="rgb(52,52,52)"/><stop offset="0.8749" stop-color="rgb(45,45,45)"/><stop offset="0.9010" stop-color="rgb(52,52,52)"/><stop offset="0.9270" stop-color="rgb(75,75,75)"/><stop offset="0.9531" stop-color="rgb(110,110,110)"/><stop offset="0.9791" stop-color="rgb(125,125,125)"/><stop offset="1.0000" stop-color="rgb(128,128,128)"/></linearGradient><filter id="gtex1" x="0" y="0" width="1" height="1" color-interpolation-filters="sRGB"><feTurbulence type="fractalNoise" baseFrequency="0.08" numOctaves="1" seed="41"/><feColorMatrix type="matrix" values="1.1 0 0 0 0.0  1.1 0 0 0 0.0  1.1 0 0 0 0.0  0 0 0 0 1"/><feComposite in2="SourceGraphic" operator="in"/></filter><filter id="gtex2" x="0" y="0" width="1" height="1" color-interpolation-filters="sRGB"><feTurbulence type="fractalNoise" baseFrequency="0.08" numOctaves="1" seed="42"/><feColorMatrix type="matrix" values="1.1 0 0 0 0.0  1.1 0 0 0 0.0  1.1 0 0 0 0.0  0 0 0 0 1"/><feComposite in2="SourceGraphic" operator="in"/></filter><filter id="htex1" x="0" y="0" width="1" height="1" color-interpolation-filters="sRGB"><feTurbulence type="fractalNoise" baseFrequency="0.085" numOctaves="1" seed="51"/><feColorMatrix type="matrix" values="1.3 0 0 0 -0.07  1.3 0 0 0 -0.07  1.3 0 0 0 -0.07  0 0 0 0 1"/><feComposite in2="SourceGraphic" operator="in"/></filter><filter id="htex2" x="0" y="0" width="1" height="1" color-interpolation-filters="sRGB"><feTurbulence type="fractalNoise" baseFrequency="0.085" numOctaves="1" seed="52"/><feColorMatrix type="matrix" values="1.3 0 0 0 -0.07  1.3 0 0 0 -0.07  1.3 0 0 0 -0.07  0 0 0 0 1"/><feComposite in2="SourceGraphic" operator="in"/></filter><filter id="hblur" x="-0.1" y="-0.2" width="1.2" height="1.4"><feGaussianBlur stdDeviation="6.5 2.9"/></filter><clipPath id="hclip"><rect x="199.2" y="518.5" width="214.8" height="114.3"/></clipPath></defs>
<text x="11.3" y="355.2" font-size="19.5" text-anchor="start" font-weight="bold" fill="#000">G</text>
<defs><filter id="gbg1c" x="-0.2" y="-0.2" width="1.4" height="1.4"><feGaussianBlur stdDeviation="3.4"/></filter></defs>
<clipPath id="g1c"><rect x="22.2" y="359.6" width="57.9" height="116.2"/></clipPath><g clip-path="url(#g1c)"><rect x="22.2" y="359.6" width="57.9" height="116.2" fill="#888" filter="url(#gtex1)"/><g filter="url(#gbg1c)"><ellipse cx="23.6" cy="366.1" rx="7.02" ry="7.02" fill="rgb(40,40,40)"/><ellipse cx="77" cy="361.6" rx="5.85" ry="5.85" fill="rgb(27,27,27)"/><ellipse cx="59.8" cy="379.7" rx="10.4" ry="5.85" fill="rgb(27,27,27)"/><ellipse cx="42.6" cy="397" rx="9.1" ry="7.8" fill="rgb(27,27,27)"/><ellipse cx="26.3" cy="397" rx="6.5" ry="6.5" fill="rgb(52,52,52)"/><ellipse cx="77" cy="412.3" rx="6.5" ry="6.5" fill="rgb(90,90,90)"/><ellipse cx="68.9" cy="406" rx="6.5" ry="6.5" fill="rgb(102,102,102)"/><ellipse cx="33.6" cy="367" rx="7.02" ry="7.02" fill="rgb(215,215,215)"/><ellipse cx="58.9" cy="367" rx="8.19" ry="8.19" fill="rgb(227,227,227)"/><ellipse cx="78.5" cy="379.7" rx="3.9" ry="5.2" fill="rgb(227,227,227)"/><ellipse cx="25.4" cy="378.8" rx="6.5" ry="6.5" fill="rgb(190,190,190)"/><ellipse cx="32.7" cy="388.8" rx="6.5" ry="6.5" fill="rgb(202,202,202)"/><ellipse cx="49.9" cy="386" rx="6.5" ry="6.5" fill="rgb(190,190,190)"/><ellipse cx="56.2" cy="406" rx="6.5" ry="6.5" fill="rgb(215,215,215)"/><ellipse cx="39.9" cy="411.4" rx="6.5" ry="6.5" fill="rgb(227,227,227)"/><ellipse cx="65.2" cy="394.2" rx="6.5" ry="6.5" fill="rgb(177,177,177)"/><ellipse cx="50.8" cy="425" rx="8.19" ry="7.15" fill="rgb(33,33,33)"/><ellipse cx="27.2" cy="432.3" rx="5.85" ry="5.85" fill="rgb(65,65,65)"/><ellipse cx="74.3" cy="436" rx="5.85" ry="5.85" fill="rgb(71,71,71)"/><ellipse cx="40.8" cy="457.6" rx="9.1" ry="7.8" fill="rgb(0,0,0)"/><ellipse cx="24.5" cy="472" rx="4.68" ry="4.68" fill="rgb(0,0,0)"/><ellipse cx="63.4" cy="464.9" rx="6.5" ry="6.5" fill="rgb(77,77,77)"/><ellipse cx="45.3" cy="446.8" rx="6.5" ry="6.5" fill="rgb(90,90,90)"/><ellipse cx="58" cy="437.7" rx="9.1" ry="7.8" fill="rgb(233,233,233)"/><ellipse cx="35.4" cy="437.7" rx="6.5" ry="6.5" fill="rgb(202,202,202)"/><ellipse cx="25.4" cy="459.4" rx="6.5" ry="6.5" fill="rgb(227,227,227)"/><ellipse cx="37.2" cy="471.2" rx="6.5" ry="5.2" fill="rgb(246,246,246)"/><ellipse cx="54.4" cy="454.9" rx="6.5" ry="6.5" fill="rgb(215,215,215)"/><ellipse cx="73.4" cy="456.7" rx="6.5" ry="6.5" fill="rgb(196,196,196)"/><ellipse cx="29" cy="418.7" rx="6.5" ry="6.5" fill="rgb(177,177,177)"/><ellipse cx="67" cy="421.4" rx="6.5" ry="6.5" fill="rgb(171,171,171)"/></g></g>
<defs><filter id="gbg2c" x="-0.2" y="-0.2" width="1.4" height="1.4"><feGaussianBlur stdDeviation="3.4"/></filter></defs>
<clipPath id="g2c"><rect x="82.1" y="359.6" width="57.9" height="116.2"/></clipPath><g clip-path="url(#g2c)"><rect x="82.1" y="359.6" width="57.9" height="116.2" fill="#888" filter="url(#gtex2)"/><g filter="url(#gbg2c)"><ellipse cx="93.6" cy="377" rx="6.5" ry="7.8" fill="rgb(52,52,52)"/><ellipse cx="107.1" cy="380.6" rx="6.5" ry="6.5" fill="rgb(90,90,90)"/><ellipse cx="115.3" cy="400.5" rx="6.5" ry="6.5" fill="rgb(15,15,15)"/><ellipse cx="83.6" cy="361.6" rx="3.9" ry="3.9" fill="rgb(77,77,77)"/><ellipse cx="120.7" cy="361.6" rx="6.5" ry="5.2" fill="rgb(102,102,102)"/><ellipse cx="136.1" cy="396" rx="5.2" ry="5.2" fill="rgb(102,102,102)"/><ellipse cx="95.4" cy="396" rx="6.5" ry="6.5" fill="rgb(115,115,115)"/><ellipse cx="84" cy="378" rx="3.9" ry="7.8" fill="rgb(255,255,255)"/><ellipse cx="127" cy="383.3" rx="7.8" ry="7.8" fill="rgb(202,202,202)"/><ellipse cx="105.3" cy="410.5" rx="7.8" ry="6.5" fill="rgb(215,215,215)"/><ellipse cx="123.4" cy="410.5" rx="6.5" ry="6.5" fill="rgb(202,202,202)"/><ellipse cx="98" cy="363.4" rx="6.5" ry="6.5" fill="rgb(177,177,177)"/><ellipse cx="111.7" cy="387.9" rx="6.5" ry="6.5" fill="rgb(165,165,165)"/><ellipse cx="134.3" cy="368.9" rx="6.5" ry="6.5" fill="rgb(165,165,165)"/><ellipse cx="91.8" cy="429.6" rx="7.8" ry="7.8" fill="rgb(52,52,52)"/><ellipse cx="120.7" cy="425" rx="9.1" ry="5.2" fill="rgb(40,40,40)"/><ellipse cx="136.1" cy="445" rx="5.2" ry="5.2" fill="rgb(0,0,0)"/><ellipse cx="105.3" cy="447.7" rx="7.8" ry="3.9" fill="rgb(77,77,77)"/><ellipse cx="85.4" cy="459.4" rx="5.2" ry="5.2" fill="rgb(102,102,102)"/><ellipse cx="123.4" cy="456.7" rx="6.5" ry="6.5" fill="rgb(115,115,115)"/><ellipse cx="106.2" cy="433.2" rx="6.5" ry="6.5" fill="rgb(227,227,227)"/><ellipse cx="118" cy="446.8" rx="9.1" ry="5.2" fill="rgb(255,255,255)"/><ellipse cx="132.5" cy="433.2" rx="6.5" ry="6.5" fill="rgb(215,215,215)"/><ellipse cx="89" cy="445" rx="7.8" ry="7.8" fill="rgb(177,177,177)"/><ellipse cx="107.1" cy="458.5" rx="6.5" ry="6.5" fill="rgb(177,177,177)"/><ellipse cx="98" cy="470.3" rx="6.5" ry="6.5" fill="rgb(165,165,165)"/><ellipse cx="125.2" cy="470.3" rx="6.5" ry="6.5" fill="rgb(152,152,152)"/></g></g>
<path d="M22.5 359.6V475.8M82.4 359.6V475.8" stroke="#333" stroke-width="0.8"/>
<rect x="142.2" y="360.4" width="7.4" height="114.2" fill="url(#gbar)" stroke="#999" stroke-width="0.6"/>
<text x="152.3" y="371.3" font-size="11.9" text-anchor="start" fill="#111">3</text>
<line x1="147.8" y1="367.1" x2="149.6" y2="367.1" stroke="#444" stroke-width="0.8"/>
<text x="152.3" y="388.6" font-size="11.9" text-anchor="start" fill="#111">2</text>
<line x1="147.8" y1="384.4" x2="149.6" y2="384.4" stroke="#444" stroke-width="0.8"/>
<text x="152.3" y="405.8" font-size="11.9" text-anchor="start" fill="#111">1</text>
<line x1="147.8" y1="401.6" x2="149.6" y2="401.6" stroke="#444" stroke-width="0.8"/>
<text x="152.3" y="422.7" font-size="11.9" text-anchor="start" fill="#111">0</text>
<line x1="147.8" y1="418.5" x2="149.6" y2="418.5" stroke="#444" stroke-width="0.8"/>
<text x="152.3" y="440.1" font-size="11.9" text-anchor="start" fill="#111">-1</text>
<line x1="147.8" y1="435.9" x2="149.6" y2="435.9" stroke="#444" stroke-width="0.8"/>
<text x="152.3" y="457.2" font-size="11.9" text-anchor="start" fill="#111">-2</text>
<line x1="147.8" y1="453" x2="149.6" y2="453" stroke="#444" stroke-width="0.8"/>
<text x="152.3" y="474" font-size="11.9" text-anchor="start" fill="#111">-3</text>
<line x1="147.8" y1="469.8" x2="149.6" y2="469.8" stroke="#444" stroke-width="0.8"/>
<rect x="197.6" y="357.3" width="215" height="115.1" fill="url(#gkym)" stroke="#aaa" stroke-width="0.5"/>
<text x="195.3" y="369.3" font-size="11.9" text-anchor="end" fill="#111">60</text>
<text x="195.3" y="404.9" font-size="11.9" text-anchor="end" fill="#111">40</text>
<text x="195.3" y="440.6" font-size="11.9" text-anchor="end" fill="#111">20</text>
<text x="195.3" y="476.4" font-size="11.9" text-anchor="end" fill="#111">0</text>
<text x="199.1" y="484.4" font-size="11.9" text-anchor="middle" fill="#111">0</text>
<text x="262.9" y="484.4" font-size="11.9" text-anchor="middle" fill="#111">50</text>
<text x="327.7" y="484.4" font-size="11.9" text-anchor="middle" fill="#111">100</text>
<text x="392.5" y="484.4" font-size="11.9" text-anchor="middle" fill="#111">150</text>
<text x="311.9" y="496.6" font-size="11.9" text-anchor="middle" fill="#111">Time (seconds)</text>
<text x="177" y="413.6" font-size="11.9" text-anchor="middle" fill="#111" transform="rotate(-90 177 413.6)">Position (microns)</text>
<text x="10.2" y="515.2" font-size="19.5" text-anchor="start" font-weight="bold" fill="#000">H</text>
<rect x="22.2" y="519.4" width="57.9" height="116.4" fill="#888" filter="url(#htex1)"/>
<rect x="82.1" y="519.4" width="57.9" height="116.4" fill="#888" filter="url(#htex2)"/>
<path d="M22.5 519.4V635.8M82.4 519.4V635.8" stroke="#333" stroke-width="0.8"/>
<rect x="142.9" y="520.6" width="7.4" height="114.4" fill="url(#gbar)" stroke="#999" stroke-width="0.6"/>
<text x="153.5" y="531.3" font-size="11.9" text-anchor="start" fill="#111">3</text>
<line x1="148.5" y1="527.1" x2="150.3" y2="527.1" stroke="#444" stroke-width="0.8"/>
<text x="153.5" y="548.9" font-size="11.9" text-anchor="start" fill="#111">2</text>
<line x1="148.5" y1="544.7" x2="150.3" y2="544.7" stroke="#444" stroke-width="0.8"/>
<text x="153.5" y="566.2" font-size="11.9" text-anchor="start" fill="#111">1</text>
<line x1="148.5" y1="562" x2="150.3" y2="562" stroke="#444" stroke-width="0.8"/>
<text x="153.5" y="583.3" font-size="11.9" text-anchor="start" fill="#111">0</text>
<line x1="148.5" y1="579.1" x2="150.3" y2="579.1" stroke="#444" stroke-width="0.8"/>
<text x="153.5" y="600.4" font-size="11.9" text-anchor="start" fill="#111">-1</text>
<line x1="148.5" y1="596.2" x2="150.3" y2="596.2" stroke="#444" stroke-width="0.8"/>
<text x="153.5" y="617.4" font-size="11.9" text-anchor="start" fill="#111">-2</text>
<line x1="148.5" y1="613.2" x2="150.3" y2="613.2" stroke="#444" stroke-width="0.8"/>
<text x="153.5" y="634.5" font-size="11.9" text-anchor="start" fill="#111">-3</text>
<line x1="148.5" y1="630.3" x2="150.3" y2="630.3" stroke="#444" stroke-width="0.8"/>
<g clip-path="url(#hclip)"><rect x="199.2" y="518.5" width="214.8" height="114.3" fill="rgb(135,135,135)"/><g filter="url(#hblur)"><ellipse cx="242.35" cy="528.65" rx="22.87" ry="5.5" fill="rgb(20,20,20)" transform="rotate(2.89 242.35 528.65)"/><ellipse cx="376.45" cy="527.85" rx="27.52" ry="6.05" fill="rgb(10,10,10)" transform="rotate(4.52 376.45 527.85)"/><ellipse cx="264" cy="547.9" rx="33.41" ry="5.5" fill="rgb(50,50,50)" transform="rotate(5.02 264 547.9)"/><ellipse cx="396.5" cy="547.85" rx="24.52" ry="5.5" fill="rgb(50,50,50)" transform="rotate(2.63 396.5 547.85)"/><ellipse cx="212.65" cy="564" rx="24.87" ry="6.6" fill="rgb(5,5,5)" transform="rotate(2.6 212.65 564)"/><ellipse cx="255.15" cy="572" rx="30.15" ry="4.4" fill="rgb(65,65,65)" transform="rotate(11.38 255.15 572)"/><ellipse cx="336.3" cy="564" rx="33.01" ry="6.6" fill="rgb(5,5,5)" transform="rotate(5.34 336.3 564)"/><ellipse cx="388.5" cy="574.5" rx="31.86" ry="4.4" fill="rgb(50,50,50)" transform="rotate(11.73 388.5 574.5)"/><ellipse cx="223.9" cy="591.25" rx="25.31" ry="5.5" fill="rgb(40,40,40)" transform="rotate(2.23 223.9 591.25)"/><ellipse cx="345.9" cy="591.3" rx="35" ry="5.5" fill="rgb(65,65,65)" transform="rotate(4.75 345.9 591.3)"/><ellipse cx="307.4" cy="603.35" rx="28.56" ry="5.5" fill="rgb(40,40,40)" transform="rotate(4.19 307.4 603.35)"/><ellipse cx="252.8" cy="619.4" rx="32.95" ry="6.6" fill="rgb(5,5,5)" transform="rotate(3.56 252.8 619.4)"/><ellipse cx="388.5" cy="620.2" rx="33.81" ry="6.6" fill="rgb(20,20,20)" transform="rotate(5.17 388.5 620.2)"/><ellipse cx="407.75" cy="602.5" rx="12.09" ry="4.4" fill="rgb(60,60,60)" transform="rotate(6.3 407.75 602.5)"/><ellipse cx="308.95" cy="527" rx="27.57" ry="6.05" fill="rgb(245,245,245)" transform="rotate(2.19 308.95 527)"/><ellipse cx="209.5" cy="546.25" rx="19.92" ry="4.95" fill="rgb(190,190,190)" transform="rotate(2.96 209.5 546.25)"/><ellipse cx="333.1" cy="547.1" rx="34.94" ry="5.5" fill="rgb(210,210,210)" transform="rotate(3.17 333.1 547.1)"/><ellipse cx="272.1" cy="564" rx="36.2" ry="6.6" fill="rgb(248,248,248)" transform="rotate(4.75 272.1 564)"/><ellipse cx="320.25" cy="571.75" rx="23.72" ry="3.85" fill="rgb(185,185,185)" transform="rotate(9.58 320.25 571.75)"/><ellipse cx="394.9" cy="561.6" rx="27.36" ry="6.6" fill="rgb(250,250,250)" transform="rotate(4.55 394.9 561.6)"/><ellipse cx="207.85" cy="574.4" rx="16.55" ry="3.3" fill="rgb(170,170,170)" transform="rotate(7.1 207.85 574.4)"/><ellipse cx="275.3" cy="590.45" rx="31.15" ry="4.95" fill="rgb(205,205,205)" transform="rotate(3.45 275.3 590.45)"/><ellipse cx="396.5" cy="591.25" rx="23.92" ry="4.95" fill="rgb(195,195,195)" transform="rotate(2.32 396.5 591.25)"/><ellipse cx="239.95" cy="603.35" rx="40.79" ry="4.95" fill="rgb(200,200,200)" transform="rotate(2.67 239.95 603.35)"/><ellipse cx="366.75" cy="603.35" rx="32.7" ry="4.95" fill="rgb(215,215,215)" transform="rotate(3.47 366.75 603.35)"/><ellipse cx="204.65" cy="618.6" rx="16.28" ry="6.05" fill="rgb(240,240,240)" transform="rotate(4.74 204.65 618.6)"/><ellipse cx="313.75" cy="619.4" rx="32.4" ry="6.05" fill="rgb(240,240,240)" transform="rotate(3.56 313.75 619.4)"/><ellipse cx="291.25" cy="631.3" rx="51.26" ry="2.75" fill="rgb(180,180,180)" transform="rotate(0.83 291.25 631.3)"/></g></g>
<text x="195.8" y="530.4" font-size="11.9" text-anchor="end" fill="#111">60</text>
<text x="195.8" y="565.4" font-size="11.9" text-anchor="end" fill="#111">40</text>
<text x="195.8" y="602" font-size="11.9" text-anchor="end" fill="#111">20</text>
<text x="195.8" y="636.8" font-size="11.9" text-anchor="end" fill="#111">0</text>
<text x="200" y="645.4" font-size="11.9" text-anchor="middle" fill="#111">0</text>
<text x="263.4" y="645.4" font-size="11.9" text-anchor="middle" fill="#111">50</text>
<text x="327.9" y="645.4" font-size="11.9" text-anchor="middle" fill="#111">100</text>
<text x="392.2" y="645.4" font-size="11.9" text-anchor="middle" fill="#111">150</text>
<text x="313" y="658" font-size="11.9" text-anchor="middle" fill="#111">Time (seconds)</text>
<text x="179" y="574" font-size="11.9" text-anchor="middle" fill="#111" transform="rotate(-90 179 574)">Position (microns)</text>
<text x="446.8" y="365.1" font-size="11.9" text-anchor="end" fill="#111">1</text>
<text x="446.8" y="393.85" font-size="11.9" text-anchor="end" fill="#111">0.5</text>
<text x="446.8" y="422.6" font-size="11.9" text-anchor="end" fill="#111">0</text>
<text x="446.8" y="451.35" font-size="11.9" text-anchor="end" fill="#111">-0.5</text>
<text x="446.8" y="480.1" font-size="11.9" text-anchor="end" fill="#111">-1</text>
<text x="450.4" y="487.5" font-size="11.9" text-anchor="middle" fill="#111">0</text>
<text x="491.42" y="487.5" font-size="11.9" text-anchor="middle" fill="#111">100</text>
<text x="532.44" y="487.5" font-size="11.9" text-anchor="middle" fill="#111">200</text>
<text x="573.46" y="487.5" font-size="11.9" text-anchor="middle" fill="#111">300</text>
<text x="614.48" y="487.5" font-size="11.9" text-anchor="middle" fill="#111">400</text>
<text x="655.5" y="487.5" font-size="11.9" text-anchor="middle" fill="#111">500</text>
<path d="M450.5 360.3 C452.92 360.47 459.93 360.92 465 361.3 C470.07 361.68 475.73 362.25 480.9 362.6 C486.07 362.95 490.9 363.13 496 363.4 C501.1 363.67 506.67 363.93 511.5 364.2 C516.33 364.47 520.92 364.73 525 365 C529.08 365.27 533.42 365.5 536 365.8 C538.58 366.1 539.25 366.32 540.5 366.8 C541.75 367.28 542.53 367.95 543.5 368.7 C544.47 369.45 545.38 370.58 546.3 371.3 C547.22 372.02 548.15 372.53 549 373 C549.85 373.47 550.4 373.77 551.4 374.1 C552.4 374.43 553.82 374.68 555 375 C556.18 375.32 557.23 375.53 558.5 376 C559.77 376.47 561.43 377.12 562.6 377.8 C563.77 378.48 564.68 379.07 565.5 380.1 C566.32 381.13 566.87 382.27 567.5 384 C568.13 385.73 568.72 388 569.3 390.5 C569.88 393 570.42 395.72 571 399 C571.58 402.28 572.2 406.45 572.8 410.2 C573.4 413.95 574 417.85 574.6 421.5 C575.2 425.15 575.78 428.77 576.4 432.1 C577.02 435.43 577.68 438.77 578.3 441.5 C578.92 444.23 579.48 446.42 580.1 448.5 C580.72 450.58 581.35 452.58 582 454 C582.65 455.42 583.25 456.35 584 457 C584.75 457.65 585.75 457.9 586.5 457.9 C587.25 457.9 587.9 457.57 588.5 457 C589.1 456.43 589.43 456 590.1 454.5 C590.77 453 591.73 450.52 592.5 448 C593.27 445.48 593.87 442.73 594.7 439.4 C595.53 436.07 596.6 431.65 597.5 428 C598.4 424.35 599.18 420.83 600.1 417.5 C601.02 414.17 602.08 410.73 603 408 C603.92 405.27 604.68 403.18 605.6 401.1 C606.52 399.02 607.43 397.02 608.5 395.5 C609.57 393.98 610.92 392.82 612 392 C613.08 391.18 614.08 390.87 615 390.6 C615.92 390.33 616.67 390.2 617.5 390.4 C618.33 390.6 619.08 390.97 620 391.8 C620.92 392.63 622 393.87 623 395.4 C624 396.93 624.95 398.83 626 401 C627.05 403.17 628.13 405.65 629.3 408.4 C630.47 411.15 631.78 414.47 633 417.5 C634.22 420.53 635.52 423.85 636.6 426.6 C637.68 429.35 638.58 431.97 639.5 434 C640.42 436.03 641.27 437.53 642.1 438.8 C642.93 440.07 643.73 441 644.5 441.6 C645.27 442.2 645.95 442.4 646.7 442.4 C647.45 442.4 648.25 442.1 649 441.6 C649.75 441.1 650.37 440.58 651.2 439.4 C652.03 438.22 653.08 436.32 654 434.5 C654.92 432.68 655.7 430.75 656.7 428.5 C657.7 426.25 659.03 423.17 660 421 C660.97 418.83 661.67 417.25 662.5 415.5 C663.33 413.75 664.58 411.33 665 410.5" fill="none" stroke="#e80808" stroke-width="2.6" stroke-linejoin="round" stroke-linecap="round"/>
<path d="M450 360.3H665V475.3H450ZM450 475.3v-3M450 360.3v3M491.02 475.3v-3M491.02 360.3v3M532.04 475.3v-3M532.04 360.3v3M573.06 475.3v-3M573.06 360.3v3M614.08 475.3v-3M614.08 360.3v3M655.1 475.3v-3M655.1 360.3v3M450 360.3h3M665 360.3h-3M450 389.05h3M665 389.05h-3M450 417.8h3M665 417.8h-3M450 446.55h3M665 446.55h-3M450 475.3h3M665 475.3h-3" fill="none" stroke="#262626" stroke-width="1.6"/>
<text x="449" y="356.3" font-size="11.9" text-anchor="start" fill="#111">Low-activity stage</text>
<text x="663.5" y="356.3" font-size="11.9" text-anchor="end" fill="#111">High-activity stage</text>
<text x="568.3" y="500.5" font-size="11.9" text-anchor="middle" fill="#111">Time lag (seconds)</text>
<text x="427" y="416.3" font-size="11.9" text-anchor="middle" fill="#111" transform="rotate(-90 427 416.3)">Correlation coefficient</text>
<text x="446.8" y="525.3" font-size="11.9" text-anchor="end" fill="#111">1</text>
<text x="446.8" y="554" font-size="11.9" text-anchor="end" fill="#111">0.5</text>
<text x="446.8" y="582.7" font-size="11.9" text-anchor="end" fill="#111">0</text>
<text x="446.8" y="611.4" font-size="11.9" text-anchor="end" fill="#111">-0.5</text>
<text x="446.8" y="640.1" font-size="11.9" text-anchor="end" fill="#111">-1</text>
<text x="450.6" y="647.5" font-size="11.9" text-anchor="middle" fill="#111">0</text>
<text x="481.33" y="647.5" font-size="11.9" text-anchor="middle" fill="#111">100</text>
<text x="512.06" y="647.5" font-size="11.9" text-anchor="middle" fill="#111">200</text>
<text x="542.79" y="647.5" font-size="11.9" text-anchor="middle" fill="#111">300</text>
<text x="573.52" y="647.5" font-size="11.9" text-anchor="middle" fill="#111">400</text>
<text x="604.25" y="647.5" font-size="11.9" text-anchor="middle" fill="#111">500</text>
<text x="634.98" y="647.5" font-size="11.9" text-anchor="middle" fill="#111">600</text>
<path d="M450.3 520.6 C450.58 521.03 451.38 521.75 452 523.2 C452.62 524.65 453.37 526.92 454 529.3 C454.63 531.68 455.22 534.3 455.8 537.5 C456.38 540.7 456.92 544.25 457.5 548.5 C458.08 552.75 458.72 557.75 459.3 563 C459.88 568.25 460.48 574.5 461 580 C461.52 585.5 461.95 590.73 462.4 596 C462.85 601.27 463.27 606.93 463.7 611.6 C464.13 616.27 464.57 620.57 465 624 C465.43 627.43 465.92 630.45 466.3 632.2 C466.68 633.95 466.93 634.53 467.3 634.5 C467.67 634.47 468.08 633.67 468.5 632 C468.92 630.33 469.3 628.5 469.8 624.5 C470.3 620.5 470.92 613.95 471.5 608 C472.08 602.05 472.63 595.8 473.3 588.8 C473.97 581.8 474.77 573.3 475.5 566 C476.23 558.7 477.03 550.58 477.7 545 C478.37 539.42 478.92 535.7 479.5 532.5 C480.08 529.3 480.63 527.32 481.2 525.8 C481.77 524.28 482.35 523.6 482.9 523.4 C483.45 523.2 483.92 523.62 484.5 524.6 C485.08 525.58 485.78 526.9 486.4 529.3 C487.02 531.7 487.62 534.92 488.2 539 C488.78 543.08 489.27 548.13 489.9 553.8 C490.53 559.47 491.27 566.28 492 573 C492.73 579.72 493.55 587.77 494.3 594.1 C495.05 600.43 495.77 606.03 496.5 611 C497.23 615.97 498.05 620.93 498.7 623.9 C499.35 626.87 499.88 628.12 500.4 628.8 C500.92 629.48 501.35 628.82 501.8 628 C502.25 627.18 502.53 627.23 503.1 623.9 C503.67 620.57 504.48 613.85 505.2 608 C505.92 602.15 506.67 595.63 507.4 588.8 C508.13 581.97 508.87 573.72 509.6 567 C510.33 560.28 511.15 553.42 511.8 548.5 C512.45 543.58 512.92 540.27 513.5 537.5 C514.08 534.73 514.7 533.02 515.3 531.9 C515.9 530.78 516.5 530.7 517.1 530.8 C517.7 530.9 518.32 531.38 518.9 532.5 C519.48 533.62 519.88 534.25 520.6 537.5 C521.32 540.75 522.33 546.37 523.2 552 C524.07 557.63 525 564.97 525.8 571.3 C526.6 577.63 527.27 584.15 528 590 C528.73 595.85 529.53 602.07 530.2 606.4 C530.87 610.73 531.42 613.7 532 616 C532.58 618.3 533.15 619.78 533.7 620.2 C534.25 620.62 534.72 619.93 535.3 618.5 C535.88 617.07 536.45 615.52 537.2 611.6 C537.95 607.68 538.92 600.83 539.8 595 C540.68 589.17 541.68 582.43 542.5 576.6 C543.32 570.77 543.97 564.97 544.7 560 C545.43 555.03 546.23 549.88 546.9 546.8 C547.57 543.72 548.12 542.57 548.7 541.5 C549.28 540.43 549.85 540.38 550.4 540.4 C550.95 540.42 551.42 540.25 552 541.6 C552.58 542.95 553.32 546.27 553.9 548.5 C554.48 550.73 554.92 553.33 555.5 555 C556.08 556.67 556.65 557.58 557.4 558.5 C558.15 559.42 559.15 560.22 560 560.5 C560.85 560.78 561.7 560.4 562.5 560.2 C563.3 560 564 559.17 564.8 559.3 C565.6 559.43 566.48 560.02 567.3 561 C568.12 561.98 568.97 563.45 569.7 565.2 C570.43 566.95 571.03 569.2 571.7 571.5 C572.37 573.8 573.03 576.58 573.7 579 C574.37 581.42 575.05 584.03 575.7 586 C576.35 587.97 576.88 589.47 577.6 590.8 C578.32 592.13 579.18 593.33 580 594 C580.82 594.67 581.58 594.97 582.5 594.8 C583.42 594.63 584.52 594 585.5 593 C586.48 592 587.33 591.22 588.4 588.8 C589.47 586.38 590.75 582.1 591.9 578.5 C593.05 574.9 594.25 570.12 595.3 567.2 C596.35 564.28 597.22 562.32 598.2 561 C599.18 559.68 600.2 559.27 601.2 559.3 C602.2 559.33 603.2 559.88 604.2 561.2 C605.2 562.52 606.2 564.73 607.2 567.2 C608.2 569.67 609.22 573.05 610.2 576 C611.18 578.95 612.13 582.07 613.1 584.9 C614.07 587.73 615.02 591.05 616 593 C616.98 594.95 618 596.52 619 596.6 C620 596.68 621.02 595.45 622 593.5 C622.98 591.55 623.92 587.98 624.9 584.9 C625.88 581.82 626.92 577.95 627.9 575 C628.88 572.05 629.92 569.1 630.8 567.2 C631.68 565.3 632.38 564.33 633.2 563.6 C634.02 562.87 634.73 562.6 635.7 562.8 C636.67 563 637.85 563.75 639 564.8 C640.15 565.85 641.35 567.15 642.6 569.1 C643.85 571.05 645.18 573.87 646.5 576.5 C647.82 579.13 649.25 582.57 650.5 584.9 C651.75 587.23 652.85 589.18 654 590.5 C655.15 591.82 656.4 592.63 657.4 592.8 C658.4 592.97 659.18 592.47 660 591.5 C660.82 590.53 661.45 588.92 662.3 587 C663.15 585.08 664.63 581.17 665.1 580" fill="none" stroke="#e80808" stroke-width="2.6" stroke-linejoin="round" stroke-linecap="round"/>
<path d="M450.2 520.5H665.3V635.3H450.2ZM450.2 635.3v-3M450.2 520.5v3M480.93 635.3v-3M480.93 520.5v3M511.66 635.3v-3M511.66 520.5v3M542.39 635.3v-3M542.39 520.5v3M573.12 635.3v-3M573.12 520.5v3M603.85 635.3v-3M603.85 520.5v3M634.58 635.3v-3M634.58 520.5v3M450.2 520.5h3M665.3 520.5h-3M450.2 549.2h3M665.3 549.2h-3M450.2 577.9h3M665.3 577.9h-3M450.2 606.6h3M665.3 606.6h-3M450.2 635.3h3M665.3 635.3h-3" fill="none" stroke="#262626" stroke-width="1.6"/>
<text x="449" y="516.9" font-size="11.9" text-anchor="start" fill="#111">Low-activity stage</text>
<text x="663.5" y="516.9" font-size="11.9" text-anchor="end" fill="#111">High-activity stage</text>
<text x="563.3" y="660.5" font-size="11.9" text-anchor="middle" fill="#111">Time lag (seconds)</text>
<text x="427" y="574.6" font-size="11.9" text-anchor="middle" fill="#111" transform="rotate(-90 427 574.6)">Correlation coefficient</text>
</svg></body></html>
